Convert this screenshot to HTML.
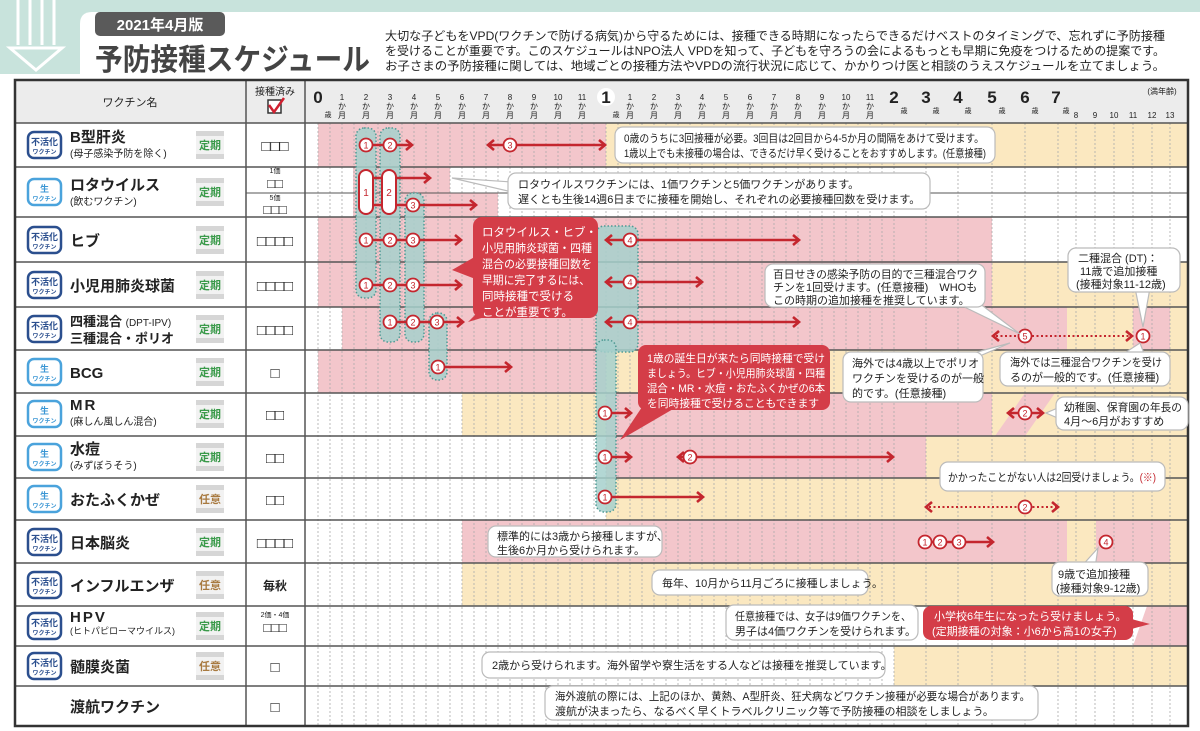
<!DOCTYPE html>
<html><head><meta charset="utf-8"><style>
html,body{margin:0;padding:0;background:#fff;}
svg{display:block;font-family:"Liberation Sans","Noto Sans CJK JP",sans-serif;}
</style></head><body>
<svg width="1200" height="731" viewBox="0 0 1200 731" xmlns="http://www.w3.org/2000/svg">
<defs>
<g id="ch"><path d="M-6,-5 L0,0 L-6,5" fill="none" stroke="#c4262e" stroke-width="2.6"/></g>
<g id="chl"><path d="M6,-5 L0,0 L6,5" fill="none" stroke="#c4262e" stroke-width="2.6"/></g>
</defs>
<rect x="0" y="0" width="1200" height="74" fill="#c8e3dc"/>
<path d="M80,74 L80,24 Q80,12 92,12 L1200,12 L1200,74 Z" fill="#fff"/>
<g stroke="#fff" stroke-width="3" fill="none">
<line x1="18" y1="0" x2="18" y2="45"/><line x1="30" y1="0" x2="30" y2="45"/><line x1="42" y1="0" x2="42" y2="45"/><line x1="54" y1="0" x2="54" y2="45"/>
<path d="M10,48 L62,48 L36,70 Z"/>
</g>
<rect x="95" y="12" width="130" height="24" rx="5" fill="#5a5a5a"/>
<text x="160" y="30" font-size="15" font-weight="bold" fill="#fff" text-anchor="middle">2021年4月版</text>
<text x="95" y="70" font-size="30" font-weight="bold" fill="#444" textLength="275" lengthAdjust="spacingAndGlyphs">予防接種スケジュール</text>
<g font-size="12" fill="#222">
<text x="385" y="40" textLength="780" lengthAdjust="spacingAndGlyphs">大切な子どもをVPD(ワクチンで防げる病気)から守るためには、接種できる時期になったらできるだけベストのタイミングで、忘れずに予防接種</text>
<text x="385" y="55" textLength="780" lengthAdjust="spacingAndGlyphs">を受けることが重要です。このスケジュールはNPO法人 VPDを知って、子どもを守ろうの会によるもっとも早期に免疫をつけるための提案です。</text>
<text x="385" y="70" textLength="780" lengthAdjust="spacingAndGlyphs">お子さまの予防接種に関しては、地域ごとの接種方法やVPDの流行状況に応じて、かかりつけ医と相談のうえスケジュールを立てましょう。</text>
</g>

<rect x="15" y="80" width="1173" height="43" fill="#ececec"/>
<g>
<rect x="318" y="123" width="288" height="44" fill="#f3c6cb"/><rect x="606" y="123" width="582" height="44" fill="#fbe8c0"/>
<rect x="353" y="167" width="97" height="26" fill="#f3c6cb"/><rect x="353" y="193" width="145" height="24" fill="#f3c6cb"/>
<rect x="318" y="217" width="674" height="45" fill="#f3c6cb"/>
<rect x="318" y="262" width="674" height="45" fill="#f3c6cb"/><rect x="992" y="262" width="196" height="45" fill="#fbe8c0"/>
<rect x="342" y="307" width="725" height="43" fill="#f3c6cb"/><rect x="1067" y="307" width="121" height="43" fill="#fbe8c0"/><rect x="1133" y="307" width="37" height="43" fill="#f3c6cb"/>
<rect x="318" y="350" width="288" height="43" fill="#f3c6cb"/><rect x="606" y="350" width="582" height="43" fill="#fbe8c0"/>
<rect x="462" y="393" width="144" height="43" fill="#fbe8c0"/><rect x="606" y="393" width="386" height="43" fill="#f3c6cb"/><rect x="992" y="393" width="196" height="43" fill="#fbe8c0"/>
<path d="M995,436 L1025,393 L1055,393 L1025,436 Z" fill="#f3c6cb"/>
<rect x="606" y="436" width="320" height="42" fill="#f3c6cb"/><rect x="926" y="436" width="262" height="42" fill="#fbe8c0"/>
<rect x="606" y="478" width="582" height="42" fill="#fbe8c0"/>
<rect x="462" y="520" width="605" height="43" fill="#f3c6cb"/><rect x="1067" y="520" width="121" height="43" fill="#fbe8c0"/><rect x="1096" y="520" width="74" height="43" fill="#f3c6cb"/>
<rect x="462" y="563" width="726" height="43" fill="#fbe8c0"/>
<path d="M1147,606 L1188,606 L1188,646 L1133,646 Z" fill="#f3c6cb"/>
<rect x="894" y="646" width="294" height="40" fill="#fbe8c0"/>
</g>

<g stroke="#aaa" stroke-width="0.8" stroke-dasharray="2,2">
<line x1="318" y1="123" x2="318" y2="726"/><line x1="330" y1="123" x2="330" y2="726"/><line x1="342" y1="123" x2="342" y2="726"/><line x1="354" y1="123" x2="354" y2="726"/><line x1="366" y1="123" x2="366" y2="726"/><line x1="378" y1="123" x2="378" y2="726"/><line x1="390" y1="123" x2="390" y2="726"/><line x1="402" y1="123" x2="402" y2="726"/><line x1="414" y1="123" x2="414" y2="726"/><line x1="426" y1="123" x2="426" y2="726"/><line x1="438" y1="123" x2="438" y2="726"/><line x1="450" y1="123" x2="450" y2="726"/><line x1="462" y1="123" x2="462" y2="726"/><line x1="474" y1="123" x2="474" y2="726"/><line x1="486" y1="123" x2="486" y2="726"/><line x1="498" y1="123" x2="498" y2="726"/><line x1="510" y1="123" x2="510" y2="726"/><line x1="522" y1="123" x2="522" y2="726"/><line x1="534" y1="123" x2="534" y2="726"/><line x1="546" y1="123" x2="546" y2="726"/><line x1="558" y1="123" x2="558" y2="726"/><line x1="570" y1="123" x2="570" y2="726"/><line x1="582" y1="123" x2="582" y2="726"/><line x1="594" y1="123" x2="594" y2="726"/><line x1="606" y1="123" x2="606" y2="726"/><line x1="618" y1="123" x2="618" y2="726"/><line x1="630" y1="123" x2="630" y2="726"/><line x1="642" y1="123" x2="642" y2="726"/><line x1="654" y1="123" x2="654" y2="726"/><line x1="666" y1="123" x2="666" y2="726"/><line x1="678" y1="123" x2="678" y2="726"/><line x1="690" y1="123" x2="690" y2="726"/><line x1="702" y1="123" x2="702" y2="726"/><line x1="714" y1="123" x2="714" y2="726"/><line x1="726" y1="123" x2="726" y2="726"/><line x1="738" y1="123" x2="738" y2="726"/><line x1="750" y1="123" x2="750" y2="726"/><line x1="762" y1="123" x2="762" y2="726"/><line x1="774" y1="123" x2="774" y2="726"/><line x1="786" y1="123" x2="786" y2="726"/><line x1="798" y1="123" x2="798" y2="726"/><line x1="810" y1="123" x2="810" y2="726"/><line x1="822" y1="123" x2="822" y2="726"/><line x1="834" y1="123" x2="834" y2="726"/><line x1="846" y1="123" x2="846" y2="726"/><line x1="858" y1="123" x2="858" y2="726"/><line x1="870" y1="123" x2="870" y2="726"/><line x1="882" y1="123" x2="882" y2="726"/><line x1="894" y1="123" x2="894" y2="726"/><line x1="926" y1="123" x2="926" y2="726"/><line x1="958" y1="123" x2="958" y2="726"/><line x1="992" y1="123" x2="992" y2="726"/><line x1="1025" y1="123" x2="1025" y2="726"/><line x1="1058" y1="123" x2="1058" y2="726"/><line x1="1076" y1="123" x2="1076" y2="726"/><line x1="1095" y1="123" x2="1095" y2="726"/><line x1="1114" y1="123" x2="1114" y2="726"/><line x1="1133" y1="123" x2="1133" y2="726"/><line x1="1152" y1="123" x2="1152" y2="726"/><line x1="1170" y1="123" x2="1170" y2="726"/>
</g>

<g stroke="#555" stroke-width="1.5">
<line x1="15" y1="123" x2="1188" y2="123"/><line x1="15" y1="167" x2="1188" y2="167"/><line x1="15" y1="217" x2="1188" y2="217"/><line x1="15" y1="262" x2="1188" y2="262"/><line x1="15" y1="307" x2="1188" y2="307"/><line x1="15" y1="350" x2="1188" y2="350"/><line x1="15" y1="393" x2="1188" y2="393"/><line x1="15" y1="436" x2="1188" y2="436"/><line x1="15" y1="478" x2="1188" y2="478"/><line x1="15" y1="520" x2="1188" y2="520"/><line x1="15" y1="563" x2="1188" y2="563"/><line x1="15" y1="606" x2="1188" y2="606"/><line x1="15" y1="646" x2="1188" y2="646"/><line x1="15" y1="686" x2="1188" y2="686"/>
<line x1="246" y1="193" x2="1188" y2="193" stroke-width="1"/>
<line x1="246" y1="80" x2="246" y2="726"/><line x1="305" y1="80" x2="305" y2="726"/>
</g>
<rect x="15" y="80" width="1173" height="646" fill="none" stroke="#333" stroke-width="2.5"/>

<text x="130" y="106" font-size="11" text-anchor="middle" fill="#222">ワクチン名</text>
<text x="275" y="95" font-size="10" text-anchor="middle" fill="#222">接種済み</text>
<rect x="268" y="100" width="13" height="13" fill="#fff" stroke="#333" stroke-width="1.5"/>
<path d="M269,105 L274,112 L284,98" fill="none" stroke="#d02030" stroke-width="2.5"/>
<g fill="#222" text-anchor="middle">
<text x="318" y="103" font-size="17" font-weight="bold">0</text><text x="328" y="117" font-size="7">歳</text>
<g font-size="8">
<text x="342" y="100">1</text><text x="342" y="109">か</text><text x="342" y="118">月</text>
<text x="366" y="100">2</text><text x="366" y="109">か</text><text x="366" y="118">月</text>
<text x="390" y="100">3</text><text x="390" y="109">か</text><text x="390" y="118">月</text>
<text x="414" y="100">4</text><text x="414" y="109">か</text><text x="414" y="118">月</text>
<text x="438" y="100">5</text><text x="438" y="109">か</text><text x="438" y="118">月</text>
<text x="462" y="100">6</text><text x="462" y="109">か</text><text x="462" y="118">月</text>
<text x="486" y="100">7</text><text x="486" y="109">か</text><text x="486" y="118">月</text>
<text x="510" y="100">8</text><text x="510" y="109">か</text><text x="510" y="118">月</text>
<text x="534" y="100">9</text><text x="534" y="109">か</text><text x="534" y="118">月</text>
<text x="558" y="100">10</text><text x="558" y="109">か</text><text x="558" y="118">月</text>
<text x="582" y="100">11</text><text x="582" y="109">か</text><text x="582" y="118">月</text>
<text x="630" y="100">1</text><text x="630" y="109">か</text><text x="630" y="118">月</text>
<text x="654" y="100">2</text><text x="654" y="109">か</text><text x="654" y="118">月</text>
<text x="678" y="100">3</text><text x="678" y="109">か</text><text x="678" y="118">月</text>
<text x="702" y="100">4</text><text x="702" y="109">か</text><text x="702" y="118">月</text>
<text x="726" y="100">5</text><text x="726" y="109">か</text><text x="726" y="118">月</text>
<text x="750" y="100">6</text><text x="750" y="109">か</text><text x="750" y="118">月</text>
<text x="774" y="100">7</text><text x="774" y="109">か</text><text x="774" y="118">月</text>
<text x="798" y="100">8</text><text x="798" y="109">か</text><text x="798" y="118">月</text>
<text x="822" y="100">9</text><text x="822" y="109">か</text><text x="822" y="118">月</text>
<text x="846" y="100">10</text><text x="846" y="109">か</text><text x="846" y="118">月</text>
<text x="870" y="100">11</text><text x="870" y="109">か</text><text x="870" y="118">月</text>
</g>
<circle cx="606" cy="97" r="9" fill="#fff"/>
<text x="606" y="103" font-size="17" font-weight="bold">1</text><text x="616" y="117" font-size="7">歳</text>
<text x="894" y="103" font-size="17" font-weight="bold">2</text><text x="904" y="113" font-size="7">歳</text>
<text x="926" y="103" font-size="17" font-weight="bold">3</text><text x="936" y="113" font-size="7">歳</text>
<text x="958" y="103" font-size="17" font-weight="bold">4</text><text x="968" y="113" font-size="7">歳</text>
<text x="992" y="103" font-size="17" font-weight="bold">5</text><text x="1002" y="113" font-size="7">歳</text>
<text x="1025" y="103" font-size="17" font-weight="bold">6</text><text x="1035" y="113" font-size="7">歳</text>
<text x="1056" y="103" font-size="17" font-weight="bold">7</text><text x="1066" y="113" font-size="7">歳</text>
<g font-size="8"><text x="1076" y="118">8</text><text x="1095" y="118">9</text><text x="1114" y="118">10</text><text x="1133" y="118">11</text><text x="1152" y="118">12</text><text x="1170" y="118">13</text></g>
<text x="1162" y="94" font-size="8">(満年齢)</text>
</g>

<g font-weight="bold" text-anchor="middle">
<g stroke="#2b4f8e" stroke-width="2.5" fill="#fff">
<rect x="28" y="132" width="33" height="26" rx="6"/><rect x="28" y="227" width="33" height="26" rx="6"/><rect x="28" y="272" width="33" height="26" rx="6"/><rect x="28" y="316" width="33" height="26" rx="6"/><rect x="28" y="529" width="33" height="26" rx="6"/><rect x="28" y="572" width="33" height="26" rx="6"/><rect x="28" y="613" width="33" height="26" rx="6"/><rect x="28" y="653" width="33" height="26" rx="6"/>
</g>
<g stroke="#4aa3dc" stroke-width="2.5" fill="#fff">
<rect x="28" y="179" width="33" height="26" rx="6"/><rect x="28" y="359" width="33" height="26" rx="6"/><rect x="28" y="401" width="33" height="26" rx="6"/><rect x="28" y="444" width="33" height="26" rx="6"/><rect x="28" y="486" width="33" height="26" rx="6"/>
</g>
<g fill="#2b4f8e">
<text x="44.5" y="145" font-size="9">不活化</text><text x="44.5" y="154" font-size="6">ワクチン</text>
<text x="44.5" y="240" font-size="9">不活化</text><text x="44.5" y="249" font-size="6">ワクチン</text>
<text x="44.5" y="285" font-size="9">不活化</text><text x="44.5" y="294" font-size="6">ワクチン</text>
<text x="44.5" y="329" font-size="9">不活化</text><text x="44.5" y="338" font-size="6">ワクチン</text>
<text x="44.5" y="542" font-size="9">不活化</text><text x="44.5" y="551" font-size="6">ワクチン</text>
<text x="44.5" y="585" font-size="9">不活化</text><text x="44.5" y="594" font-size="6">ワクチン</text>
<text x="44.5" y="626" font-size="9">不活化</text><text x="44.5" y="635" font-size="6">ワクチン</text>
<text x="44.5" y="666" font-size="9">不活化</text><text x="44.5" y="675" font-size="6">ワクチン</text>
</g>
<g fill="#3a96d4">
<text x="44.5" y="192" font-size="9">生</text><text x="44.5" y="201" font-size="6">ワクチン</text>
<text x="44.5" y="372" font-size="9">生</text><text x="44.5" y="381" font-size="6">ワクチン</text>
<text x="44.5" y="414" font-size="9">生</text><text x="44.5" y="423" font-size="6">ワクチン</text>
<text x="44.5" y="457" font-size="9">生</text><text x="44.5" y="466" font-size="6">ワクチン</text>
<text x="44.5" y="499" font-size="9">生</text><text x="44.5" y="508" font-size="6">ワクチン</text>
</g>
</g>
<g font-size="11" font-weight="bold" text-anchor="middle">
<g fill="#d6d6d6">
<rect x="196" y="131" width="28" height="28"/><rect x="196" y="178" width="28" height="28"/><rect x="196" y="226" width="28" height="28"/><rect x="196" y="271" width="28" height="28"/><rect x="196" y="315" width="28" height="28"/><rect x="196" y="358" width="28" height="28"/><rect x="196" y="400" width="28" height="28"/><rect x="196" y="443" width="28" height="28"/><rect x="196" y="485" width="28" height="28"/><rect x="196" y="528" width="28" height="28"/><rect x="196" y="571" width="28" height="28"/><rect x="196" y="612" width="28" height="28"/><rect x="196" y="652" width="28" height="28"/>
</g>
<g fill="#f2f2f2">
<rect x="196" y="136" width="28" height="18"/><rect x="196" y="183" width="28" height="18"/><rect x="196" y="231" width="28" height="18"/><rect x="196" y="276" width="28" height="18"/><rect x="196" y="320" width="28" height="18"/><rect x="196" y="363" width="28" height="18"/><rect x="196" y="405" width="28" height="18"/><rect x="196" y="448" width="28" height="18"/><rect x="196" y="490" width="28" height="18"/><rect x="196" y="533" width="28" height="18"/><rect x="196" y="576" width="28" height="18"/><rect x="196" y="617" width="28" height="18"/><rect x="196" y="657" width="28" height="18"/>
</g>
<g fill="#3a9a4a">
<text x="210" y="149">定期</text><text x="210" y="196">定期</text><text x="210" y="244">定期</text><text x="210" y="289">定期</text><text x="210" y="333">定期</text><text x="210" y="376">定期</text><text x="210" y="418">定期</text><text x="210" y="461">定期</text><text x="210" y="546">定期</text><text x="210" y="630">定期</text>
</g>
<g fill="#a87a40">
<text x="210" y="503">任意</text><text x="210" y="589">任意</text><text x="210" y="670">任意</text>
</g>
</g>
<g fill="#222" font-weight="bold" font-size="15">
<text x="70" y="142">B型肝炎</text>
<text x="70" y="190">ロタウイルス</text>
<text x="70" y="246">ヒブ</text>
<text x="70" y="291">小児用肺炎球菌</text>
<text x="70" y="326" font-size="13">四種混合 <tspan font-size="10" font-weight="normal">(DPT-IPV)</tspan></text>
<text x="70" y="343" font-size="13">三種混合・ポリオ</text>
<text x="70" y="378">BCG</text>
<text x="70" y="410" letter-spacing="2">MR</text>
<text x="70" y="454">水痘</text>
<text x="70" y="505">おたふくかぜ</text>
<text x="70" y="548">日本脳炎</text>
<text x="70" y="591">インフルエンザ</text>
<text x="70" y="622" letter-spacing="2">HPV</text>
<text x="70" y="672">髄膜炎菌</text>
<text x="70" y="712">渡航ワクチン</text>
</g>
<g fill="#222" font-size="10">
<text x="70" y="157">(母子感染予防を除く)</text>
<text x="70" y="205">(飲むワクチン)</text>
<text x="70" y="425">(麻しん風しん混合)</text>
<text x="70" y="469">(みずぼうそう)</text>
<text x="70" y="634" font-size="9">(ヒトパピローマウイルス)</text>
</g>
<g fill="#222" text-anchor="middle" font-size="15">
<text x="275" y="151">□□□</text>
<text x="275" y="173" font-size="7">1価</text><text x="275" y="188" font-size="13">□□</text>
<text x="275" y="200" font-size="7">5価</text><text x="275" y="214" font-size="13">□□□</text>
<text x="275" y="246">□□□□</text><text x="275" y="291">□□□□</text><text x="275" y="335">□□□□</text>
<text x="275" y="378">□</text><text x="275" y="420">□□</text><text x="275" y="463">□□</text><text x="275" y="505">□□</text>
<text x="275" y="548">□□□□</text>
<text x="275" y="590" font-size="12" font-weight="bold">毎秋</text>
<text x="275" y="617" font-size="7">2価・4価</text><text x="275" y="632" font-size="13">□□□</text>
<text x="275" y="672">□</text><text x="275" y="712">□</text>
</g>

<g fill="#a6d0cc" fill-opacity="0.85" stroke="#4f9a94" stroke-width="1.5" stroke-dasharray="1.5,2">
<rect x="356" y="128" width="20" height="170" rx="8"/>
<rect x="380" y="128" width="20" height="214" rx="8"/>
<rect x="405" y="193" width="19" height="149" rx="8"/>
<rect x="429" y="313" width="18" height="67" rx="8"/>
<rect x="596" y="226" width="42" height="126" rx="8"/>
<rect x="596" y="340" width="20" height="172" rx="8"/>
</g>

<g stroke="#c4262e" stroke-width="2.6" fill="none">
<line x1="366" y1="145" x2="411" y2="145"/>
<line x1="490" y1="145" x2="603" y2="145"/>
<line x1="372" y1="178" x2="428" y2="178"/>
<line x1="372" y1="205" x2="474" y2="205"/>
<line x1="366" y1="240" x2="459" y2="240"/>
<line x1="608" y1="240" x2="797" y2="240"/>
<line x1="366" y1="285" x2="459" y2="285"/>
<line x1="608" y1="282" x2="700" y2="282"/>
<line x1="390" y1="322" x2="461" y2="322"/>
<line x1="608" y1="322" x2="797" y2="322"/>
<line x1="996" y1="336" x2="1130" y2="336" stroke-dasharray="2,2.5" stroke-width="2"/>
<line x1="438" y1="367" x2="509" y2="367"/>
<line x1="605" y1="413" x2="629" y2="413"/>
<line x1="1010" y1="413" x2="1041" y2="413"/>
<line x1="605" y1="457" x2="629" y2="457"/>
<line x1="680" y1="457" x2="891" y2="457"/>
<line x1="605" y1="497" x2="701" y2="497"/>
<line x1="929" y1="507" x2="1056" y2="507" stroke-dasharray="2,2.5" stroke-width="2"/>
<line x1="926" y1="542" x2="991" y2="542"/>
</g>
<use href="#ch" x="412" y="145"/><use href="#chl" x="488" y="145"/><use href="#ch" x="605" y="145"/>
<use href="#ch" x="430" y="178"/><use href="#ch" x="476" y="205"/>
<use href="#ch" x="461" y="240"/><use href="#chl" x="606" y="240"/><use href="#ch" x="799" y="240"/>
<use href="#ch" x="461" y="285"/><use href="#chl" x="606" y="282"/><use href="#ch" x="702" y="282"/>
<use href="#ch" x="463" y="322"/><use href="#chl" x="606" y="322"/><use href="#ch" x="799" y="322"/>
<use href="#chl" x="993" y="336"/><use href="#ch" x="1132" y="336"/>
<use href="#ch" x="511" y="367"/><use href="#ch" x="631" y="413"/>
<use href="#chl" x="1008" y="413"/><use href="#ch" x="1043" y="413"/>
<use href="#ch" x="631" y="457"/><use href="#chl" x="678" y="457"/><use href="#ch" x="893" y="457"/>
<use href="#ch" x="703" y="497"/><use href="#chl" x="926" y="507"/><use href="#ch" x="1058" y="507"/>
<use href="#ch" x="993" y="542"/>

<g fill="#fff" stroke="#c4262e" stroke-width="2">
<rect x="359" y="170" width="14" height="44" rx="7"/><rect x="382" y="170" width="14" height="44" rx="7"/>
</g>
<g fill="#c4262e" font-size="10" text-anchor="middle"><text x="366" y="196">1</text><text x="389" y="196">2</text></g>

<g fill="#fff" stroke="#c4262e" stroke-width="1.8">
<circle cx="366" cy="145" r="6.5"/><circle cx="390" cy="145" r="6.5"/><circle cx="510" cy="145" r="6.5"/>
<circle cx="413" cy="205" r="6.5"/>
<circle cx="366" cy="240" r="6.5"/><circle cx="390" cy="240" r="6.5"/><circle cx="413" cy="240" r="6.5"/><circle cx="630" cy="240" r="6.5"/>
<circle cx="366" cy="285" r="6.5"/><circle cx="390" cy="285" r="6.5"/><circle cx="413" cy="285" r="6.5"/><circle cx="630" cy="282" r="6.5"/>
<circle cx="390" cy="322" r="6.5"/><circle cx="413" cy="322" r="6.5"/><circle cx="437" cy="322" r="6.5"/><circle cx="630" cy="322" r="6.5"/>
<circle cx="1025" cy="336" r="6.5"/><circle cx="1143" cy="336" r="6.5"/>
<circle cx="438" cy="367" r="6.5"/>
<circle cx="605" cy="413" r="6.5"/><circle cx="1025" cy="413" r="6.5"/>
<circle cx="605" cy="457" r="6.5"/><circle cx="690" cy="457" r="6.5"/>
<circle cx="605" cy="497" r="6.5"/><circle cx="1025" cy="507" r="6.5"/>
<circle cx="925" cy="542" r="6.5"/><circle cx="940" cy="542" r="6.5"/><circle cx="959" cy="542" r="6.5"/><circle cx="1106" cy="542" r="6.5"/>
</g>
<g fill="#c4262e" font-size="9" text-anchor="middle">
<text x="366" y="148.5">1</text><text x="390" y="148.5">2</text><text x="510" y="148.5">3</text>
<text x="413" y="208.5">3</text>
<text x="366" y="243.5">1</text><text x="390" y="243.5">2</text><text x="413" y="243.5">3</text><text x="630" y="243.5">4</text>
<text x="366" y="288.5">1</text><text x="390" y="288.5">2</text><text x="413" y="288.5">3</text><text x="630" y="285.5">4</text>
<text x="390" y="325.5">1</text><text x="413" y="325.5">2</text><text x="437" y="325.5">3</text><text x="630" y="325.5">4</text>
<text x="1025" y="339.5">5</text><text x="1143" y="339.5">1</text>
<text x="438" y="370.5">1</text>
<text x="605" y="416.5">1</text><text x="1025" y="416.5">2</text>
<text x="605" y="460.5">1</text><text x="690" y="460.5">2</text>
<text x="605" y="500.5">1</text><text x="1025" y="510.5">2</text>
<text x="925" y="545.5">1</text><text x="940" y="545.5">2</text><text x="959" y="545.5">3</text><text x="1106" y="545.5">4</text>
</g>

<g fill="#fff" stroke="#bbb" stroke-width="1.2">
<rect x="615" y="127" width="380" height="36" rx="8"/>
<path d="M512,182 L452,178 L512,192 Z"/>
<rect x="508" y="173" width="422" height="36" rx="8"/>
<path d="M950,300 L1020,334 L975,300 Z"/>
<rect x="765" y="264" width="220" height="43" rx="8"/>
<path d="M1135,288 L1143,327 L1150,288 Z"/>
<rect x="1068" y="248" width="112" height="44" rx="8"/>
<path d="M955,358 L1010,343 L975,358 Z"/>
<rect x="843" y="352" width="140" height="50" rx="8"/>
<path d="M1120,356 L1140,343 L1145,356 Z"/>
<rect x="1000" y="352" width="170" height="34" rx="8"/>
<path d="M1060,407 L1046,413 L1060,419 Z"/>
<rect x="1056" y="397" width="132" height="33" rx="8"/>
<rect x="940" y="462" width="225" height="29" rx="8"/>
<rect x="488" y="526" width="174" height="31" rx="8"/>
<path d="M1080,568 L1098,548 L1095,568 Z"/>
<rect x="1052" y="562" width="96" height="34" rx="8"/>
<rect x="652" y="570" width="216" height="25" rx="8"/>
<rect x="726" y="605" width="192" height="35" rx="8"/>
<rect x="482" y="652" width="403" height="26" rx="8"/>
<rect x="545" y="686" width="493" height="34" rx="8"/>
</g>
<g fill="#d43d48">
<path d="M478,255 L452,270 L478,280 Z"/>
<path d="M490,300 L468,322 L515,308 Z"/>
<rect x="473" y="217" width="125" height="101" rx="9"/>
<path d="M650,395 L620,440 L680,405 Z"/>
<rect x="638" y="345" width="192" height="65" rx="8"/>
<path d="M1120,616 L1150,624 L1120,632 Z"/>
<rect x="923" y="606" width="210" height="34" rx="8"/>
</g>

<g fill="#222" font-size="11">
<text x="624" y="142" textLength="360" lengthAdjust="spacingAndGlyphs">0歳のうちに3回接種が必要。3回目は2回目から4-5か月の間隔をあけて受けます。</text>
<text x="624" y="157" textLength="362" lengthAdjust="spacingAndGlyphs">1歳以上でも未接種の場合は、できるだけ早く受けることをおすすめします。(任意接種)</text>
<text x="518" y="188">ロタウイルスワクチンには、1価ワクチンと5価ワクチンがあります。</text>
<text x="518" y="203">遅くとも生後14週6日までに接種を開始し、それぞれの必要接種回数を受けます。</text>
<text x="773" y="278" textLength="205" lengthAdjust="spacingAndGlyphs">百日せきの感染予防の目的で三種混合ワク</text>
<text x="773" y="291">チンを1回受けます。(任意接種)　WHOも</text>
<text x="773" y="304">この時期の追加接種を推奨しています。</text>
<text x="1078" y="262">二種混合 (DT)：</text>
<text x="1080" y="275">11歳で追加接種</text>
<text x="1076" y="288">(接種対象11-12歳)</text>
<text x="852" y="367">海外では4歳以上でポリオ</text>
<text x="852" y="382">ワクチンを受けるのが一般</text>
<text x="852" y="397">的です。(任意接種)</text>
<text x="1010" y="366" textLength="152" lengthAdjust="spacingAndGlyphs">海外では三種混合ワクチンを受け</text>
<text x="1010" y="381">るのが一般的です。(任意接種)</text>
<text x="1064" y="411" textLength="118" lengthAdjust="spacingAndGlyphs">幼稚園、保育園の年長の</text>
<text x="1064" y="425">4月〜6月がおすすめ</text>
<text x="948" y="481" textLength="208" lengthAdjust="spacingAndGlyphs">かかったことがない人は2回受けましょう。<tspan fill="#c4262e">(※)</tspan></text>
<text x="497" y="540">標準的には3歳から接種しますが、</text>
<text x="497" y="554">生後6か月から受けられます。</text>
<text x="1058" y="578">9歳で追加接種</text>
<text x="1056" y="592">(接種対象9-12歳)</text>
<text x="662" y="587">毎年、10月から11月ごろに接種しましょう。</text>
<text x="735" y="620" textLength="176" lengthAdjust="spacingAndGlyphs">任意接種では、女子は9価ワクチンを、</text>
<text x="735" y="635">男子は4価ワクチンを受けられます。</text>
<text x="492" y="669">2歳から受けられます。海外留学や寮生活をする人などは接種を推奨しています。</text>
<text x="555" y="700" textLength="475" lengthAdjust="spacingAndGlyphs">海外渡航の際には、上記のほか、黄熱、A型肝炎、狂犬病などワクチン接種が必要な場合があります。</text>
<text x="555" y="715">渡航が決まったら、なるべく早くトラベルクリニック等で予防接種の相談をしましょう。</text>
</g>
<g fill="#fff" font-size="11.5">
<text x="482" y="236">ロタウイルス・ヒブ・</text>
<text x="482" y="252" textLength="110" lengthAdjust="spacingAndGlyphs">小児用肺炎球菌・四種</text>
<text x="482" y="268" textLength="110" lengthAdjust="spacingAndGlyphs">混合の必要接種回数を</text>
<text x="482" y="284" textLength="108" lengthAdjust="spacingAndGlyphs">早期に完了するには、</text>
<text x="482" y="300">同時接種で受ける</text>
<text x="482" y="316">ことが重要です。</text>
<text x="647" y="362" font-size="11" textLength="178" lengthAdjust="spacingAndGlyphs">1歳の誕生日が来たら同時接種で受け</text>
<text x="647" y="377" font-size="11" textLength="178" lengthAdjust="spacingAndGlyphs">ましょう。ヒブ・小児用肺炎球菌・四種</text>
<text x="647" y="392" font-size="11" textLength="178" lengthAdjust="spacingAndGlyphs">混合・MR・水痘・おたふくかぜの6本</text>
<text x="647" y="407" font-size="11" textLength="172" lengthAdjust="spacingAndGlyphs">を同時接種で受けることもできます</text>
<text x="934" y="620" font-size="11">小学校6年生になったら受けましょう。</text>
<text x="932" y="635" font-size="11">(定期接種の対象：小6から高1の女子)</text>
</g>
</svg>
</body></html>
